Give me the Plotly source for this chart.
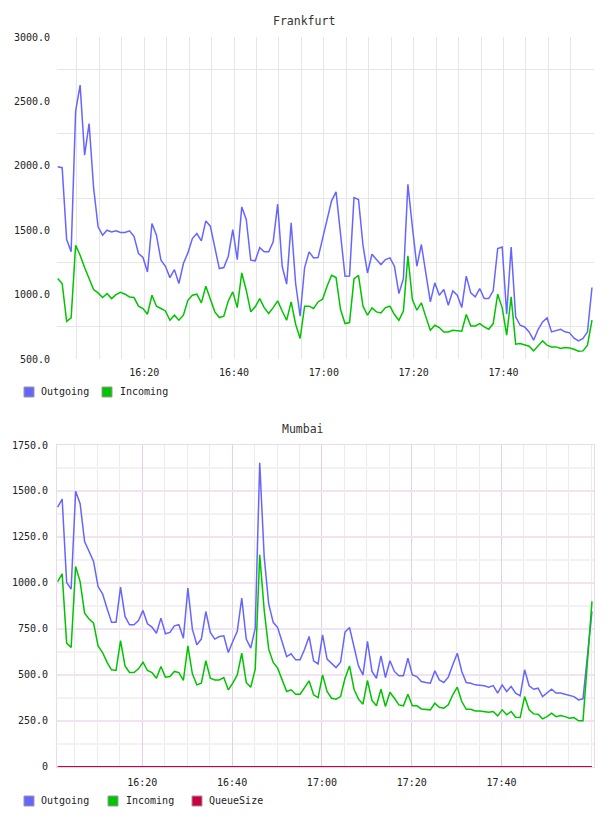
import pandas as pd
import plotly.graph_objects as go

# ---------------- data ----------------
series_names = ["Outgoing", "Incoming", "QueueSize"]
series_colors = ["#6666ff", "#00c400", "#cc0040"]

fra_outgoing = [1992, 1985, 1427, 1332, 2424, 2626, 2083, 2328, 1830, 1526,
                1461, 1500, 1487, 1495, 1482, 1482, 1495, 1453, 1319, 1288,
                1176, 1552, 1461, 1267, 1220, 1132, 1194, 1086, 1241, 1324,
                1435, 1474, 1417, 1572, 1531, 1357, 1202, 1210, 1298, 1505,
                1272, 1681, 1583, 1267, 1262, 1365, 1332, 1332, 1409, 1702,
                1220, 1081, 1557, 1086, 832, 1210, 1332, 1285, 1288, 1435,
                1577, 1728, 1797, 1461, 1143, 1145, 1753, 1738, 1383, 1168,
                1313, 1272, 1233, 1272, 1285, 1220, 1008, 1124, 1857, 1526,
                1220, 1389, 1168, 943, 1091, 995, 1039, 917, 1029, 995,
                899, 1143, 1013, 982, 1047, 969, 969, 1029, 1357, 1370,
                848, 1370, 827, 762, 749, 710, 646, 729, 788, 819,
                710, 723, 730, 711, 703, 662, 641, 659, 711, 1055]

fra_incoming = [1125, 1086, 793, 819, 1383, 1306, 1210, 1117, 1039, 1013,
                977, 1008, 969, 1000, 1018, 1003, 982, 977, 910, 892,
                848, 995, 910, 892, 873, 801, 840, 801, 840, 956,
                995, 1003, 936, 1065, 969, 866, 822, 832, 951, 1021,
                899, 1168, 1034, 866, 905, 969, 899, 853, 899, 951,
                873, 801, 943, 770, 659, 910, 910, 892, 943, 964,
                1065, 1150, 1132, 884, 775, 783, 1122, 1150, 910, 840,
                897, 866, 858, 899, 910, 845, 801, 873, 1301, 961,
                879, 936, 827, 723, 762, 744, 710, 710, 723, 718,
                716, 845, 757, 757, 775, 749, 731, 775, 1003, 899,
                685, 982, 615, 620, 607, 599, 563, 602, 641, 607,
                594, 594, 581, 589, 586, 576, 560, 563, 607, 801]

mum_outgoing = [1412, 1456, 1002, 966, 1498, 1431, 1225, 1171, 1116, 980,
                940, 860, 785, 785, 977, 817, 772, 772, 795, 850,
                777, 759, 726, 808, 723, 730, 766, 772, 699, 971,
                748, 663, 694, 844, 730, 694, 708, 712, 621, 681,
                736, 917, 694, 645, 754, 1653, 1140, 885, 785, 757,
                681, 599, 614, 581, 581, 639, 708, 576, 559, 717,
                585, 559, 539, 568, 732, 757, 657, 548, 499, 681,
                518, 481, 603, 485, 576, 518, 494, 494, 590, 499,
                490, 463, 458, 454, 521, 472, 458, 487, 554, 617,
                518, 458, 454, 445, 443, 440, 432, 441, 400, 445,
                409, 436, 400, 385, 527, 440, 421, 427, 381, 403,
                421, 400, 400, 394, 387, 381, 363, 369, None, 844]

mum_incoming = [1007, 1049, 672, 648, 1089, 1007, 835, 803, 781, 657,
                621, 567, 527, 523, 686, 548, 512, 512, 532, 568,
                523, 512, 481, 545, 487, 490, 518, 512, 469, 657,
                505, 445, 454, 576, 481, 472, 472, 485, 418, 454,
                499, 617, 458, 432, 530, 1153, 850, 639, 567, 536,
                472, 409, 418, 394, 394, 430, 467, 391, 376, 499,
                409, 372, 367, 381, 481, 548, 421, 367, 340, 469,
                360, 331, 421, 327, 405, 372, 336, 331, 394, 331,
                331, 314, 312, 309, 345, 323, 318, 336, 391, 432,
                354, 312, 312, 303, 303, 300, 296, 300, 276, 309,
                282, 300, 269, 267, 381, 309, 287, 285, 260, 272,
                291, 272, 278, 272, 263, 267, 249, 249, None, 899]

mum_queue = [0] * 64 + [1, 3, 2, 1] + [0] * 50 + [None, 0]

fra_time = pd.date_range("2024-01-01 16:00:43", periods=120, freq="min")
mum_time = pd.date_range("2024-01-01 16:01:09", periods=120, freq="min")

x_tickvals = ["2024-01-01 16:20", "2024-01-01 16:40", "2024-01-01 17:00",
              "2024-01-01 17:20", "2024-01-01 17:40"]
x_ticktext = ["16:20", "16:40", "17:00", "17:20", "17:40"]

fra_yticks = [500, 1000, 1500, 2000, 2500, 3000]
fra_yticktext = ["500.0", "1000.0", "1500.0", "2000.0", "2500.0", "3000.0"]
fra_ygrid = [750, 1250, 1750, 2250, 2750]
mum_yticks = [0, 250, 500, 750, 1000, 1250, 1500, 1750]
mum_yticktext = ["0", "250.0", "500.0", "750.0", "1000.0", "1250.0", "1500.0", "1750.0"]
mum_yminor = [125, 375, 625, 875, 1125, 1375, 1625]

# ---------------- figure ----------------
FONT = "DejaVu Sans Mono"
W, H = 608, 816
ML, MR, MT, MB = 57, 14, 37, 49
PW, PH = W - ML - MR, H - MT - MB


def px(x):
    return (x - ML) / PW


def py(y):
    return (H - MB - y) / PH


fig = go.Figure()
for name, color, vals in zip(series_names[:2], series_colors[:2], [fra_outgoing, fra_incoming]):
    fig.add_trace(go.Scatter(x=fra_time, y=vals, mode="lines", name=name,
                             line=dict(color=color, width=1.5), xaxis="x", yaxis="y",
                             connectgaps=True, showlegend=False))
for name, color, vals in zip(series_names, series_colors, [mum_outgoing, mum_incoming, mum_queue]):
    fig.add_trace(go.Scatter(x=mum_time, y=vals, mode="lines", name=name,
                             line=dict(color=color, width=1.5), xaxis="x2", yaxis="y2",
                             connectgaps=True, showlegend=False))

top_dom = [1 - 322 / PH, 1]
bot_dom = [0, 322 / PH]

gray = "#e6e6e6"
pink_major = "#e4cfe4"
pink_h = "#f1e3f1"
gray_minor = "#ececec"

fig.update_layout(
    width=W, height=H,
    margin=dict(l=ML, r=MR, t=MT, b=MB, autoexpand=False),
    paper_bgcolor="white", plot_bgcolor="white",
    showlegend=False,
    font=dict(family=FONT, size=10, color="#222222"),
    xaxis=dict(domain=[0, 1], anchor="y", type="date", automargin=False,
               range=["2024-01-01 16:00:34", "2024-01-01 18:00:10"],
               tickmode="array", tickvals=x_tickvals, ticktext=x_ticktext,
               showgrid=True, gridcolor=gray, gridwidth=1,
               minor=dict(tick0="2024-01-01 16:00", dtick=300000, showgrid=True,
                          gridcolor=gray, gridwidth=1),
               zeroline=False, showline=False, ticks="", ticklabelstandoff=6),
    yaxis=dict(domain=top_dom, anchor="x", range=[500, 3000], automargin=False,
               tickmode="array", tickvals=fra_yticks, ticktext=fra_yticktext,
               showgrid=False,
               minor=dict(tickmode="array", tickvals=fra_ygrid, showgrid=True,
                          gridcolor=gray, gridwidth=1),
               zeroline=False, showline=False, ticks="", ticklabelstandoff=6),
    xaxis2=dict(domain=[0, 1], anchor="y2", type="date", automargin=False,
                range=["2024-01-01 16:01:00", "2024-01-01 18:00:36"],
                tickmode="array", tickvals=x_tickvals, ticktext=x_ticktext,
                showgrid=True, gridcolor=pink_major, gridwidth=1,
                minor=dict(tick0="2024-01-01 16:00", dtick=300000, showgrid=True,
                           gridcolor=gray_minor, gridwidth=1),
                zeroline=False, showline=True, mirror=True, linecolor="#ecd9ec",
                linewidth=1, ticks="", ticklabelstandoff=6),
    yaxis2=dict(domain=bot_dom, anchor="x2", range=[-2, 1750], automargin=False,
                tickmode="array", tickvals=mum_yticks, ticktext=mum_yticktext,
                showgrid=True, gridcolor=pink_h, gridwidth=1.5,
                minor=dict(tickmode="array", tickvals=mum_yminor, showgrid=True,
                           gridcolor="#f2f2f2", gridwidth=1.5),
                zeroline=False, showline=True, mirror=True, linecolor="#ecd9ec",
                linewidth=1, ticks="", ticklabelstandoff=6),
)

# titles
fig.add_annotation(text="Frankfurt", xref="paper", yref="paper", x=px(304), y=py(21),
                   showarrow=False, xanchor="center", yanchor="middle",
                   font=dict(family=FONT, size=11.5, color="#333333"))
fig.add_annotation(text="Mumbai", xref="paper", yref="paper", x=px(303), y=py(429),
                   showarrow=False, xanchor="center", yanchor="middle",
                   font=dict(family=FONT, size=11.5, color="#333333"))

# legends (custom square swatches)
legend_rows = [
    (392, series_names[:2], series_colors[:2], [24, 102], [39, 118]),
    (801, series_names, series_colors, [24, 108, 192], [39, 124, 207]),
]
for yc, names, colors, sx, tx in legend_rows:
    for name, color, s, t in zip(names, colors, sx, tx):
        fig.add_shape(type="rect", xref="paper", yref="paper",
                      x0=px(s), x1=px(s + 10), y0=py(yc - 5), y1=py(yc + 5),
                      fillcolor=color, line=dict(color="#999999", width=1))
        fig.add_annotation(text=name, xref="paper", yref="paper", x=px(t), y=py(yc),
                           showarrow=False, xanchor="left", yanchor="middle",
                           font=dict(family=FONT, size=10, color="#222222"))

fig.write_html("out.html")
